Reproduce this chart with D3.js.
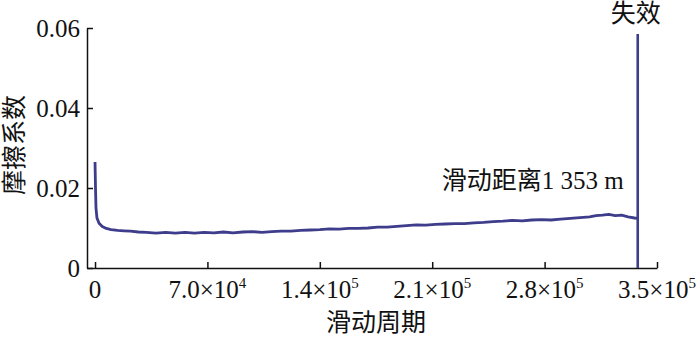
<!DOCTYPE html>
<html>
<head>
<meta charset="utf-8">
<script src="https://cdn.jsdelivr.net/npm/d3@7"></script>
<style>
  body { margin: 0; background: #fff; }
  svg text { font-family: "Liberation Serif", "Times New Roman", Times, "DejaVu Serif", "Noto Sans CJK SC", serif; fill: #111; }
</style>
</head>
<body>
<div id="chart"></div>
<script>
// sliding cycles and friction coefficient
const cycles = [0, 300, 600, 1200, 2500, 4500, 7000, 10000, 14000, 18000, 22000, 27000,
  32000, 38000, 44000, 50000, 56000, 62000, 68000, 74000, 80000, 86000, 92000, 98000,
  104000, 110000, 116000, 122000, 128000, 134000, 140000, 146000, 152000, 158000, 164000,
  170000, 176000, 182000, 188000, 194000, 200000, 206000, 212000, 218000, 224000, 230000,
  236000, 242000, 248000, 254000, 260000, 266000, 272000, 278000, 284000, 290000, 296000,
  302000, 308000, 312000, 316000, 320000, 324000, 328000, 332000, 336000, 338000];
const friction = [0.0265, 0.0200, 0.0150, 0.0125, 0.0112, 0.0104, 0.0099, 0.0096, 0.0094, 0.0093, 0.0092, 0.0090,
  0.0089, 0.0087, 0.0089, 0.0087, 0.0089, 0.0087, 0.0089, 0.0088, 0.0090, 0.0088, 0.0090, 0.0091,
  0.0089, 0.0091, 0.0092, 0.0092, 0.0094, 0.0095, 0.0096, 0.0098, 0.0097, 0.0099, 0.0099,
  0.0100, 0.0102, 0.0102, 0.0104, 0.0106, 0.0108, 0.0107, 0.0109, 0.0110, 0.0111, 0.0111,
  0.0113, 0.0114, 0.0116, 0.0117, 0.0119, 0.0118, 0.0120, 0.0121, 0.0120, 0.0122, 0.0124,
  0.0126, 0.0128, 0.0131, 0.0132, 0.0134, 0.0131, 0.0132, 0.0128, 0.0125, 0.0124];

// failure spike at the end of the test
const failCycle = 338000;
const failFriction = [0, 0.0585];

const xTicks = [0, 70000, 140000, 210000, 280000, 350000];
const xTickMantissa = ["0", "7.0×10", "1.4×10", "2.1×10", "2.8×10", "3.5×10"];
const xTickExp = ["", "4", "5", "5", "5", "5"];
const yTicks = [0, 0.02, 0.04, 0.06];
const yTickLabels = ["0", "0.02", "0.04", "0.06"];

const width = 700, height = 340;
const lineColor = "#3d3d8c";
const fontSize = "25px";

const svg = d3.select("#chart").append("svg")
  .attr("width", width)
  .attr("height", height);

const x = d3.scaleLinear().domain([-5000, 350000]).range([87, 657]);
const y = d3.scaleLinear().domain([0, 0.06]).range([268, 28]);

// y axis, ticks pointing inward
const yAxis = svg.append("g")
  .attr("transform", `translate(${x(-5000)},0)`)
  .call(d3.axisLeft(y)
    .tickValues(yTicks)
    .tickFormat((d, i) => yTickLabels[i])
    .tickSizeInner(-6)
    .tickSizeOuter(0)
    .tickPadding(7));
yAxis.attr("font-family", null).selectAll("text").style("font-size", fontSize);

// x axis
const xAxis = svg.append("g")
  .attr("transform", `translate(0,${y(0)})`)
  .call(d3.axisBottom(x)
    .tickValues(xTicks)
    .tickFormat("")
    .tickSizeInner(-6)
    .tickSizeOuter(0));

[yAxis, xAxis].forEach(g => {
  g.select(".domain").attr("stroke", "#111").attr("stroke-width", 1.5);
  g.selectAll(".tick line").attr("stroke", "#111").attr("stroke-width", 1.5);
});

// x tick labels with superscript exponents
const xLabels = svg.append("g")
  .selectAll("text")
  .data(xTicks)
  .join("text")
  .attr("x", d => x(d))
  .attr("y", y(0) + 30)
  .attr("text-anchor", "middle")
  .style("font-size", fontSize);
xLabels.append("tspan").text((d, i) => xTickMantissa[i]);
xLabels.append("tspan")
  .attr("dy", -10)
  .style("font-size", "15px")
  .text((d, i) => xTickExp[i]);

// friction curve
const line = d3.line()
  .x((d, i) => x(cycles[i]))
  .y(d => y(d));

svg.append("path")
  .datum(friction)
  .attr("fill", "none")
  .attr("stroke", lineColor)
  .attr("stroke-width", 2.8)
  .attr("stroke-linejoin", "round")
  .attr("d", line);

// failure line
svg.append("line")
  .attr("x1", x(failCycle))
  .attr("x2", x(failCycle))
  .attr("y1", y(failFriction[0]))
  .attr("y2", y(failFriction[1]))
  .attr("stroke", lineColor)
  .attr("stroke-width", 2.6);

svg.append("text")
  .attr("x", x(failCycle) - 2)
  .attr("y", 22)
  .attr("text-anchor", "middle")
  .style("font-size", fontSize)
  .text("失效");

svg.append("text")
  .attr("x", x(failCycle) - 14)
  .attr("y", 189)
  .attr("text-anchor", "end")
  .style("font-size", fontSize)
  .text("滑动距离1 353 m");

// axis titles
svg.append("text")
  .attr("x", 376)
  .attr("y", 331)
  .attr("text-anchor", "middle")
  .style("font-size", fontSize)
  .text("滑动周期");

svg.append("text")
  .attr("transform", "translate(23,145) rotate(-90)")
  .attr("text-anchor", "middle")
  .style("font-size", fontSize)
  .text("摩擦系数");
</script>
</body>
</html>
